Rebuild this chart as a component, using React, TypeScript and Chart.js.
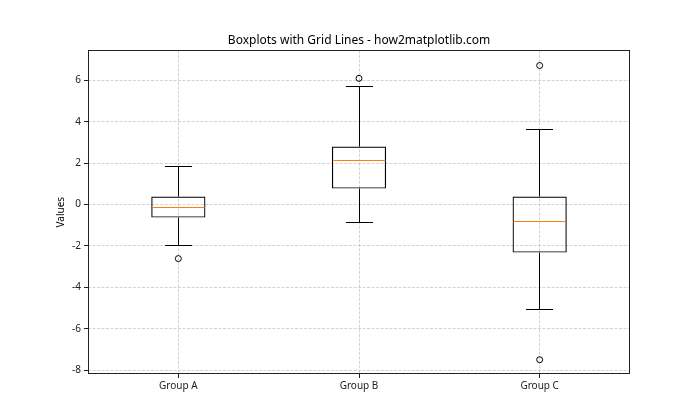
import { useEffect, useRef } from 'react';
import { Chart, registerables } from 'chart.js';

Chart.register(...registerables);

const categories = ['Group A', 'Group B', 'Group C'];
const whiskerLow = [-1.98, -0.87, -5.07];
const q1 = [-0.63, 0.77, -2.32];
const median = [-0.13, 2.13, -0.82];
const q3 = [0.39, 2.8, 0.39];
const whiskerHigh = [1.84, 5.68, 3.62];
const outliersHigh = [null, 6.09, 6.71];
const outliersLow = [-2.61, null, -7.49];
const yTicks = [-8, -6, -4, -2, 0, 2, 4, 6];
const yMin = -8.18;
const yMax = 7.44;

const FONT = "'Noto Sans', 'DejaVu Sans', sans-serif";
const GRID = 'rgba(176,176,176,0.7)';

const snap = (v: number) => Math.round(v - 0.5) + 0.5;

const boxPartsPlugin = {
  id: 'boxParts',
  afterDatasetsDraw(chart: any) {
    const { ctx, scales } = chart;
    const xs = scales.x;
    const ys = scales.y;
    const meta = chart.getDatasetMeta(0);
    ctx.save();
    ctx.lineWidth = 1;
    meta.data.forEach((bar: any, i: number) => {
      const cx = snap(xs.getPixelForValue(i));
      const half = bar.width / 2;
      const capHalf = bar.width / 4;
      const yQ1 = ys.getPixelForValue(q1[i]);
      const yQ3 = ys.getPixelForValue(q3[i]);
      const yLo = snap(ys.getPixelForValue(whiskerLow[i]));
      const yHi = snap(ys.getPixelForValue(whiskerHigh[i]));
      const yMed = snap(ys.getPixelForValue(median[i]));
      ctx.strokeStyle = '#000';
      ctx.beginPath();
      ctx.moveTo(cx, yQ3);
      ctx.lineTo(cx, yHi);
      ctx.moveTo(cx - capHalf, yHi);
      ctx.lineTo(cx + capHalf, yHi);
      ctx.moveTo(cx, yQ1);
      ctx.lineTo(cx, yLo);
      ctx.moveTo(cx - capHalf, yLo);
      ctx.lineTo(cx + capHalf, yLo);
      ctx.stroke();
      ctx.strokeStyle = '#ff7f0e';
      ctx.beginPath();
      ctx.moveTo(cx - half + 1, yMed);
      ctx.lineTo(cx + half - 1, yMed);
      ctx.stroke();
    });
    ctx.restore();
  },
  afterDraw(chart: any) {
    const { ctx, chartArea } = chart;
    ctx.save();
    ctx.strokeStyle = '#222';
    ctx.lineWidth = 1;
    const l = Math.round(chartArea.left) + 0.5;
    const t = Math.round(chartArea.top) + 0.5;
    const r = Math.round(chartArea.right) - 0.5;
    const b = Math.round(chartArea.bottom) - 0.5;
    ctx.strokeRect(l, t, r - l, b - t);
    ctx.restore();
  },
};

export default function App() {
  const ref = useRef<HTMLCanvasElement | null>(null);
  useEffect(() => {
    if (!ref.current) return;
    const chart = new Chart(ref.current, {
      type: 'bar',
      data: {
        labels: categories,
        datasets: [
          {
            type: 'bar',
            data: categories.map((_, i) => [q1[i], q3[i]]) as any,
            backgroundColor: 'rgba(0,0,0,0)',
            borderColor: '#000',
            borderWidth: 1.2,
            borderSkipped: false,
            barPercentage: 0.3,
            categoryPercentage: 1,
          } as any,
          {
            type: 'line',
            data: outliersHigh as any,
            showLine: false,
            pointStyle: 'circle',
            pointRadius: 3,
            pointBorderColor: '#000',
            pointBackgroundColor: 'rgba(0,0,0,0)',
            pointBorderWidth: 1,
          } as any,
          {
            type: 'line',
            data: outliersLow as any,
            showLine: false,
            pointStyle: 'circle',
            pointRadius: 3,
            pointBorderColor: '#000',
            pointBackgroundColor: 'rgba(0,0,0,0)',
            pointBorderWidth: 1,
          } as any,
        ],
      },
      options: {
        responsive: false,
        animation: false,
        layout: { padding: { left: 0, right: 70, top: 0, bottom: 0 } },
        plugins: {
          legend: { display: false },
          tooltip: { enabled: false },
          title: {
            display: true,
            text: 'Boxplots with Grid Lines - how2matplotlib.com',
            color: '#000',
            font: { family: FONT, size: 12, weight: 'normal' },
            padding: { top: 33, bottom: 3 },
            fullSize: false,
          },
        },
        scales: {
          x: {
            type: 'category',
            offset: true,
            grid: {
              display: true,
              offset: false,
              color: GRID,
              lineWidth: 0.8,
              tickColor: '#222',
              tickBorderDash: [],
              tickWidth: 1,
              tickLength: 4,
            } as any,
            border: { display: false, dash: [3, 1.5] },
            ticks: {
              color: '#222',
              font: { family: FONT, size: 10 },
              padding: 2,
              maxRotation: 0,
            },
            afterFit(axis: any) {
              axis.height = 46;
            },
          },
          y: {
            type: 'linear',
            min: yMin,
            max: yMax,
            grid: {
              color: GRID,
              lineWidth: 0.8,
              tickColor: '#222',
              tickBorderDash: [],
              tickWidth: 1,
              tickLength: 4,
            } as any,
            border: { display: false, dash: [3, 1.5] },
            ticks: {
              color: '#222',
              font: { family: FONT, size: 10 },
              padding: 3,
              callback: (v: any) => String(v),
            },
            afterBuildTicks(axis: any) {
              axis.ticks = yTicks.map((v) => ({ value: v }));
            },
            title: {
              display: true,
              text: 'Values',
              color: '#000',
              font: { family: FONT, size: 10 },
              padding: { top: 55, bottom: 0 },
            },
            afterFit(axis: any) {
              axis.width = 88;
            },
          },
        },
      },
      plugins: [boxPartsPlugin],
    });
    return () => chart.destroy();
  }, []);
  return (
    <div style={{ position: 'fixed', left: 0, top: 0, width: 700, height: 420, background: '#fff' }}>
      <canvas ref={ref} width={700} height={420} />
    </div>
  );
}
